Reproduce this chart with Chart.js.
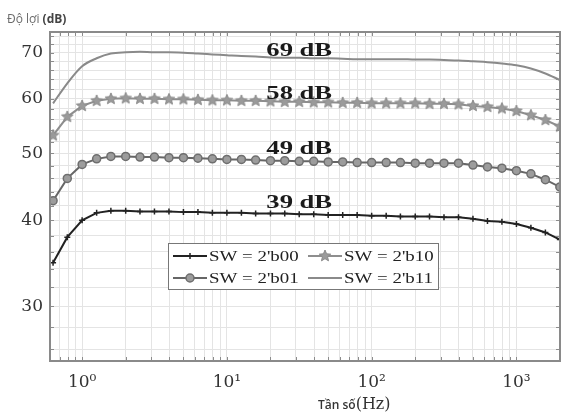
<!DOCTYPE html>
<html>
<head>
<meta charset="utf-8">
<script src="https://cdn.jsdelivr.net/npm/chart.js@4.4.1/dist/chart.umd.min.js"></script>
<style>
  html, body { margin: 0; padding: 0; background: #fff; }
  #wrap { position: relative; width: 571px; height: 416px; overflow: hidden; }
  #gainChart { position: absolute; left: 0; top: 0; }
  .ylab { position: absolute; left: 7px; top: 10px; font: 12px 'Open Sans', sans-serif; color: #6a6a6a; white-space: nowrap; }
  .ylab b { color: #444; }
  .xlab { position: absolute; left: 318px; top: 394px; font: 600 12px 'Open Sans', sans-serif; color: #333; white-space: nowrap; }
  .xlab span { font: 16px 'DejaVu Serif', serif; color: #333; }
</style>
</head>
<body>
<div id="wrap">
  <canvas id="gainChart" width="571" height="416"></canvas>
  <div class="ylab">Độ lợi <b>(dB)</b></div>
  <div class="xlab">Tần số<span>(Hz)</span></div>
</div>
<script>
// Frequencies (Hz) of the measured points, 10 per decade
const freqs = [0.63, 0.79, 1, 1.26, 1.58, 2, 2.51, 3.16, 3.98, 5.01,
  6.31, 7.94, 10, 12.6, 15.8, 20, 25.1, 31.6, 39.8, 50.1,
  63.1, 79.4, 100, 126, 158, 200, 251, 316, 398, 501,
  631, 794, 1000, 1259, 1585, 1995];

// Gain (dB) for each switch setting
const gainSW00 = [34.7, 37.8, 40.0, 41.0, 41.3, 41.3, 41.2, 41.2, 41.2, 41.1,
  41.1, 41.0, 41.0, 41.0, 40.9, 40.9, 40.9, 40.8, 40.8, 40.7,
  40.7, 40.7, 40.6, 40.6, 40.5, 40.5, 40.5, 40.4, 40.4, 40.2,
  39.9, 39.8, 39.5, 39.0, 38.4, 37.5];
const gainSW01 = [42.7, 46.0, 48.2, 49.1, 49.5, 49.5, 49.4, 49.4, 49.3, 49.3,
  49.2, 49.1, 49.0, 49.0, 48.9, 48.8, 48.8, 48.7, 48.7, 48.6,
  48.6, 48.5, 48.5, 48.5, 48.5, 48.4, 48.4, 48.4, 48.4, 48.1,
  47.8, 47.6, 47.2, 46.7, 45.8, 44.7];
const gainSW10 = [53.1, 56.5, 58.6, 59.6, 60.0, 60.1, 60.0, 60.0, 59.9, 59.9,
  59.8, 59.7, 59.7, 59.6, 59.6, 59.5, 59.4, 59.4, 59.3, 59.3,
  59.2, 59.2, 59.1, 59.1, 59.1, 59.1, 59.0, 59.0, 58.9, 58.6,
  58.4, 58.1, 57.6, 56.8, 55.9, 54.7];
const gainSW11 = [59.1, 63.2, 66.9, 68.7, 69.8, 70.1, 70.2, 70.1, 70.1, 70.0,
  69.8, 69.6, 69.4, 69.2, 69.1, 68.9, 68.8, 68.8, 68.7, 68.7,
  68.6, 68.5, 68.5, 68.5, 68.5, 68.4, 68.4, 68.3, 68.2, 68.0,
  67.8, 67.5, 67.1, 66.4, 65.3, 63.9];

const seriesNames = ["SW = 2'b00", "SW = 2'b01", "SW = 2'b10", "SW = 2'b11"];

// Gain labels written over the curves
const gainLabels = ['69 dB', '58 dB', '49 dB', '39 dB'];
const gainLabelAt = [70.3, 61.0, 50.7, 42.4];
const gainLabelFreq = 31.6;

// Axis ticks / grid
const xGrid = [0.6, 0.7, 0.8, 0.9, 1, 2, 3, 4, 5, 6, 7, 8, 9, 10, 20, 30, 40, 50, 60, 70, 80, 90,
  100, 200, 300, 400, 500, 600, 700, 800, 900, 1000, 2000];
const xTickLabels = { 1: '10⁰', 10: '10¹', 100: '10²', 1000: '10³' };
const yGrid = [26, 28, 30, 32, 34, 36, 38, 40, 42, 44, 46, 48, 50, 52, 54, 56, 58, 60,
  62, 64, 66, 68, 70, 72, 74];
const yTickLabels = [30, 40, 50, 60, 70];

// filled star marker for SW = 2'b10
function makeStar(r, fill, stroke) {
  const size = Math.ceil(r * 2 + 2);
  const c = document.createElement('canvas');
  c.width = size; c.height = size;
  const g = c.getContext('2d');
  g.beginPath();
  for (let i = 0; i < 10; i++) {
    const rad = i % 2 ? r * 0.45 : r;
    const a = -Math.PI / 2 + i * Math.PI / 5;
    g.lineTo(size / 2 + rad * Math.cos(a), size / 2 + rad * Math.sin(a));
  }
  g.closePath();
  g.fillStyle = fill;
  g.fill();
  g.lineWidth = 1;
  g.strokeStyle = stroke;
  g.stroke();
  return c;
}
const starImg = makeStar(6, '#9a9a9a', '#8a8a8a');

const toPoints = arr => arr.map((v, i) => ({ x: freqs[i], y: v }));

// Frame, inward tick marks, gain labels and legend box
const decorPlugin = {
  id: 'decor',
  afterDatasetsDraw(chart) {
    const { ctx, chartArea: a, scales } = chart;
    ctx.save();
    ctx.strokeStyle = '#8c8c8c';
    ctx.lineWidth = 1;
    ctx.beginPath();
    yGrid.forEach(v => {
      const y = Math.round(scales.y.getPixelForValue(v)) + 0.5;
      ctx.moveTo(a.left, y); ctx.lineTo(a.left + 4, y);
      ctx.moveTo(a.right, y); ctx.lineTo(a.right - 4, y);
    });
    xGrid.forEach(v => {
      const x = Math.round(scales.x.getPixelForValue(v)) + 0.5;
      ctx.moveTo(x, a.bottom); ctx.lineTo(x, a.bottom - 4);
      ctx.moveTo(x, a.top); ctx.lineTo(x, a.top + 4);
    });
    ctx.stroke();
    ctx.lineWidth = 2;
    ctx.strokeStyle = '#8a8a8a';
    ctx.strokeRect(a.left, a.top, a.right - a.left, a.bottom - a.top);
    ctx.restore();
  },
  afterDraw(chart) {
    const { ctx, scales } = chart;
    ctx.save();
    // gain labels
    ctx.fillStyle = '#1a1a1a';
    ctx.font = "bold 19px 'Liberation Serif', serif";
    ctx.textAlign = 'center';
    ctx.textBaseline = 'middle';
    const lx = scales.x.getPixelForValue(gainLabelFreq);
    gainLabels.forEach((t, i) => {
      ctx.save();
      ctx.translate(lx, scales.y.getPixelForValue(gainLabelAt[i]));
      ctx.scale(1.4, 1);
      ctx.fillText(t, 0, 0);
      ctx.restore();
    });
    // legend
    const bx = 168, by = 243, bw = 270, bh = 46;
    ctx.fillStyle = '#fff';
    ctx.fillRect(bx, by, bw, bh);
    ctx.strokeStyle = '#777';
    ctx.lineWidth = 1;
    ctx.strokeRect(bx + 0.5, by + 0.5, bw, bh);
    const order = [0, 2, 1, 3];
    ctx.font = "14px 'Liberation Serif', serif";
    ctx.textAlign = 'left';
    order.forEach((di, k) => {
      const ds = chart.data.datasets[di];
      const col = k % 2, row = Math.floor(k / 2);
      const x0 = col === 0 ? 173 : 308;
      const y0 = row === 0 ? 256 : 278;
      ctx.strokeStyle = ds.borderColor;
      ctx.lineWidth = ds.borderWidth;
      ctx.beginPath();
      ctx.moveTo(x0, y0); ctx.lineTo(x0 + 34, y0);
      ctx.stroke();
      if (ds.pointRadius > 0) {
        ctx.fillStyle = ds.pointBackgroundColor;
        ctx.strokeStyle = ds.pointBorderColor;
        ctx.lineWidth = ds.pointBorderWidth;
        Chart.helpers.drawPoint(ctx, {
          pointStyle: ds.pointStyle, radius: ds.pointRadius,
          borderWidth: ds.pointBorderWidth, rotation: 0
        }, x0 + 17, y0);
      }
      ctx.fillStyle = '#222';
      ctx.save();
      ctx.translate(x0 + 36, y0 + 1);
      ctx.scale(1.35, 1);
      ctx.fillText(ds.label, 0, 0);
      ctx.restore();
    });
    ctx.restore();
  }
};

const ctx = document.getElementById('gainChart').getContext('2d');
const gainChart = new Chart(ctx, {
  type: 'line',
  data: {
    datasets: [{
      label: seriesNames[0],
      data: toPoints(gainSW00),
      borderColor: '#222',
      borderWidth: 2,
      pointStyle: 'cross',
      pointRadius: 3,
      pointBorderWidth: 1.5,
      pointBackgroundColor: '#222',
      pointBorderColor: '#222',
      tension: 0
    }, {
      label: seriesNames[1],
      data: toPoints(gainSW01),
      borderColor: '#666',
      borderWidth: 2,
      pointStyle: 'circle',
      pointRadius: 4,
      pointBorderWidth: 1.5,
      pointBackgroundColor: '#9c9c9c',
      pointBorderColor: '#6e6e6e',
      tension: 0
    }, {
      label: seriesNames[2],
      data: toPoints(gainSW10),
      borderColor: '#8e8e8e',
      borderWidth: 2,
      pointStyle: starImg,
      pointRadius: 6,
      pointBorderWidth: 1,
      pointBackgroundColor: '#9a9a9a',
      pointBorderColor: '#8a8a8a',
      tension: 0
    }, {
      label: seriesNames[3],
      data: toPoints(gainSW11),
      borderColor: '#8a8a8a',
      borderWidth: 2,
      pointRadius: 0,
      cubicInterpolationMode: 'monotone'
    }]
  },
  options: {
    responsive: false,
    animation: false,
    layout: { padding: { top: 32, right: 3, left: 0, bottom: 0 } },
    plugins: { legend: { display: false }, tooltip: { enabled: false } },
    scales: {
      x: {
        type: 'logarithmic',
        min: 0.6,
        max: 2000,
        afterBuildTicks: s => { s.ticks = xGrid.map(v => ({ value: v })); },
        afterFit: s => { s.height = 55; },
        grid: { color: '#e4e4e4', drawTicks: false },
        border: { display: false },
        ticks: {
          autoSkip: false, maxRotation: 0, padding: 11, color: '#333',
          font: { family: "'DejaVu Serif', serif", size: 17 },
          callback: v => xTickLabels[v] || ''
        }
      },
      y: {
        type: 'logarithmic',
        min: 25,
        max: 75,
        afterBuildTicks: s => { s.ticks = yGrid.map(v => ({ value: v })); },
        afterFit: s => { s.width = 50; },
        grid: { color: '#e4e4e4', drawTicks: false },
        border: { display: false },
        ticks: {
          autoSkip: false, padding: 7, color: '#333',
          font: { family: "'DejaVu Serif', serif", size: 17 },
          callback: v => yTickLabels.includes(v) ? String(v) : ''
        }
      }
    }
  },
  plugins: [decorPlugin]
});
</script>
</body>
</html>
